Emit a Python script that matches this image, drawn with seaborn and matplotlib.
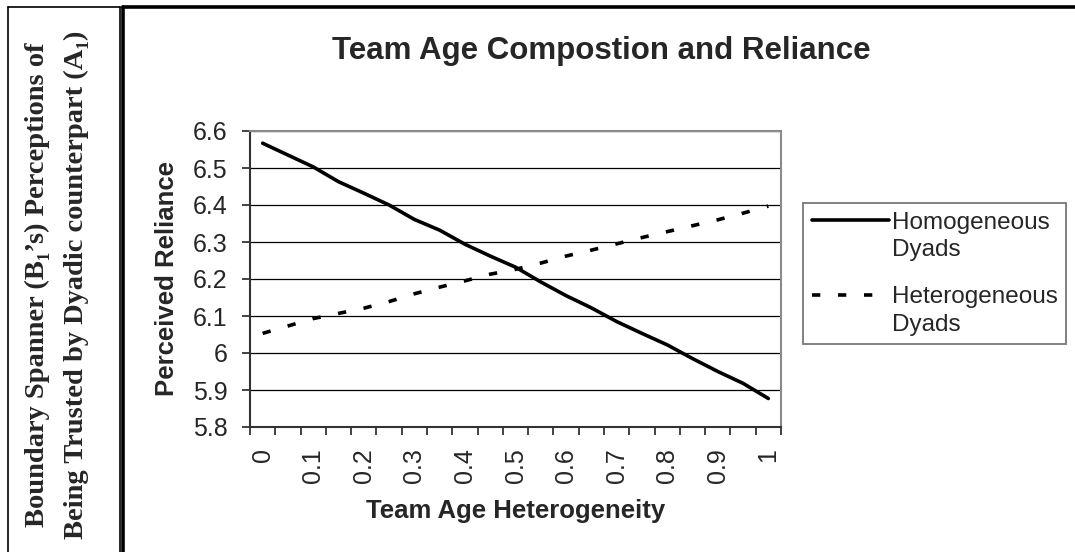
import matplotlib
matplotlib.use("Agg")
import matplotlib.pyplot as plt
import seaborn as sns
import pandas as pd
import numpy as np
from matplotlib.lines import Line2D
from matplotlib.legend_handler import HandlerLine2D
from matplotlib.ticker import FixedLocator, FuncFormatter

# ---------------- data ----------------
heterogeneity = [0.00, 0.05, 0.10, 0.15, 0.20, 0.25, 0.30, 0.35, 0.40, 0.45, 0.50,
                 0.55, 0.60, 0.65, 0.70, 0.75, 0.80, 0.85, 0.90, 0.95, 1.00]
homogeneous = [6.567, 6.535, 6.503, 6.463, 6.432, 6.400, 6.361, 6.332, 6.294, 6.262, 6.232,
               6.192, 6.155, 6.122, 6.085, 6.053, 6.022, 5.985, 5.950, 5.918, 5.877]
heterogeneous = [6.053, 6.073, 6.093, 6.107, 6.121, 6.139, 6.160, 6.178, 6.195, 6.213, 6.226,
                 6.243, 6.262, 6.278, 6.295, 6.312, 6.328, 6.344, 6.360, 6.378, 6.397]
series_names = ["Homogeneous\nDyads", "Heterogeneous\nDyads"]
x_tick_values = [0.0, 0.1, 0.2, 0.3, 0.4, 0.5, 0.6, 0.7, 0.8, 0.9, 1.0]
x_tick_labels = ["0", "0.1", "0.2", "0.3", "0.4", "0.5", "0.6", "0.7", "0.8", "0.9", "1"]
y_ticks = [5.8, 5.9, 6.0, 6.1, 6.2, 6.3, 6.4, 6.5, 6.6]
title = "Team Age Compostion and Reliance"
x_label = "Team Age Heterogeneity"
y_label = "Perceived Reliance"
side_lines = ["Boundary Spanner (B\u2081\u2019s) Perceptions of",
              "Being Trusted by Dyadic counterpart (A\u2081)"]

df = pd.DataFrame({
    "x": heterogeneity * 2,
    "value": homogeneous + heterogeneous,
    "series": [series_names[0]] * len(homogeneous) + [series_names[1]] * len(heterogeneous),
})

# ---------------- style ----------------
sns.set_style("white")
plt.rcParams["font.family"] = ["Liberation Sans", "DejaVu Sans"]
plt.rcParams["axes.unicode_minus"] = False

W, H = 1075, 552
fig = plt.figure(figsize=(W / 100, H / 100), dpi=100)
fig.patch.set_facecolor("white")


def fx(px):
    return px / W


def fy(py):
    return 1 - py / H


ax = fig.add_axes([fx(250), fy(427), fx(781) - fx(250), fy(131) - fy(427)])

sns.lineplot(data=df, x="x", y="value", hue="series", style="series",
             palette=["black", "black"],
             dashes={series_names[0]: "", series_names[1]: (2.3, 4.9)},
             linewidth=2.6, ax=ax, legend=True, sort=False)

handles, labels = ax.get_legend_handles_labels()
ax.get_legend().remove()

# axes limits / ticks
step = heterogeneity[1] - heterogeneity[0]
ax.set_xlim(heterogeneity[0] - step / 2, heterogeneity[-1] + step / 2)
ax.set_ylim(y_ticks[0], y_ticks[-1])
ax.xaxis.set_major_locator(FixedLocator(x_tick_values))
ax.set_xticklabels(x_tick_labels, rotation=90, fontsize=18)
boundaries = [h - step / 2 for h in heterogeneity] + [heterogeneity[-1] + step / 2]
ax.xaxis.set_minor_locator(FixedLocator(boundaries))
ax.tick_params(axis="x", which="major", length=0, pad=15, labelsize=18)
ax.tick_params(axis="x", which="minor", length=6, width=1.2, color="#222222", direction="out", bottom=True)
ax.set_yticks(y_ticks)
ax.yaxis.set_major_formatter(FuncFormatter(lambda v, p: f"{v:g}"))
ax.tick_params(axis="y", which="major", length=6, width=1.2, color="#222222", direction="out",
               left=True, pad=10, labelsize=18)

ax.set_xlabel(x_label, fontsize=18.5, fontweight="bold", labelpad=12)
ax.set_ylabel(y_label, fontsize=18.5, fontweight="bold", labelpad=10)

ax.yaxis.grid(True, color="black", linewidth=0.9)
ax.xaxis.grid(False)
ax.set_axisbelow(True)

for side in ["top", "right"]:
    ax.spines[side].set_color("#8a8a8a")
    ax.spines[side].set_linewidth(1.5)
for side in ["left", "bottom"]:
    ax.spines[side].set_color("#333333")
    ax.spines[side].set_linewidth(1.5)


# legend: handle aligned with the first line of each two-line label
class TopLineHandler(HandlerLine2D):
    def __init__(self, yoff, **kw):
        super().__init__(**kw)
        self.yoff = yoff

    def create_artists(self, legend, orig_handle, xdescent, ydescent, width, height, fontsize, trans):
        artists = super().create_artists(legend, orig_handle, xdescent, ydescent,
                                         width, height, fontsize, trans)
        for a in artists:
            a.set_ydata(np.asarray(a.get_ydata(), dtype=float) + self.yoff)
        return artists


leg = fig.legend(handles, labels, loc="upper left", bbox_to_anchor=(fx(803), fy(203)),
                 frameon=True, fancybox=False, fontsize=17.5, handlelength=3.2,
                 handletextpad=0.1, labelspacing=1.05, borderpad=0.35, borderaxespad=0,
                 handler_map={Line2D: TopLineHandler(11.5)})
leg.get_frame().set_edgecolor("#555555")
leg.get_frame().set_linewidth(1.3)
for t in leg.get_texts():
    t.set_linespacing(1.32)
for lh in leg.get_lines():
    lh.set_linewidth(2.6)

# title
fig.text(fx(601), fy(51), title, ha="center", va="center", fontsize=22.5, fontweight="bold")

# side text
fig.text(fx(37), fy(285), side_lines[0], rotation=90, ha="center", va="center",
         fontsize=20.5, fontweight="bold", family=["Liberation Serif", "DejaVu Serif"])
fig.text(fx(76), fy(285), side_lines[1], rotation=90, ha="center", va="center",
         fontsize=20.5, fontweight="bold", family=["Liberation Serif", "DejaVu Serif"])

# frames
thin = dict(color="black", linewidth=1.2, transform=fig.transFigure)
fig.add_artist(Line2D([fx(8), fx(8)], [fy(7), 0], **thin))
fig.add_artist(Line2D([fx(8), fx(120)], [fy(7), fy(7)], **thin))
fig.add_artist(Line2D([fx(120), fx(120)], [fy(7), 0], **thin))
thick = dict(color="black", linewidth=2.6, transform=fig.transFigure)
fig.add_artist(Line2D([fx(123), 1], [fy(7), fy(7)], **thick))
fig.add_artist(Line2D([fx(123), fx(123)], [fy(7), 0], **thick))

fig.savefig("out.png", dpi=100, facecolor="white")
